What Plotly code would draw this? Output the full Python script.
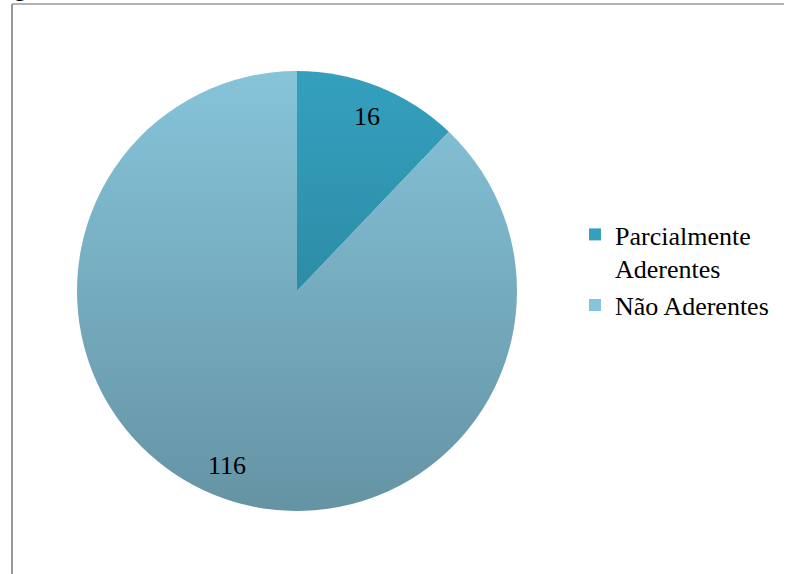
import math
import base64
import plotly.graph_objects as go

# ---- data ----
categories = ["Parcialmente<br>Aderentes", "Não Aderentes"]
values = [16, 116]
colors = ["#34a0be", "#86c4da"]

# ---- layout constants (pixels) ----
W, H = 789, 574
CX, CY, R = 297, 291, 220
LABEL_R = 0.855
SERIF = "Liberation Serif, Times New Roman, serif"

fig = go.Figure()
fig.add_trace(go.Pie(
    labels=categories,
    values=values,
    sort=False,
    direction="clockwise",
    rotation=0,
    marker=dict(colors=colors, line=dict(width=0)),
    textinfo="none",
    hoverinfo="label+value",
    domain=dict(x=[(CX - R) / W, (CX + R) / W], y=[1 - (CY + R) / H, 1 - (CY - R) / H]),
))

# value labels placed at mid-angle of each slice
total = sum(values)
cum = 0
annotations = []
for v in values:
    mid = (cum + v / 2) / total * 2 * math.pi
    cum += v
    px = CX + LABEL_R * R * math.sin(mid)
    py = CY - LABEL_R * R * math.cos(mid)
    annotations.append(dict(
        x=px / W, y=1 - py / H, xref="paper", yref="paper",
        text=str(v), showarrow=False,
        font=dict(family=SERIF, size=26, color="black"),
        xanchor="center", yanchor="middle",
    ))

# cropped caption glyph at the very top-left
annotations.append(dict(
    x=20 / W, y=1 - 3 / H, xref="paper", yref="paper", text="g", showarrow=False,
    font=dict(family=SERIF, size=24, color="black"),
    xanchor="center", yanchor="bottom",
))

# subtle vertical shading over the pie to mimic the gradient fill
svg = ('<svg xmlns="http://www.w3.org/2000/svg" viewBox="0 0 100 100" preserveAspectRatio="none">'
       '<defs><linearGradient id="g" x1="0" y1="0" x2="0" y2="1">'
       '<stop offset="0" stop-color="#000" stop-opacity="0"/>'
       '<stop offset="1" stop-color="#000" stop-opacity="0.25"/>'
       '</linearGradient></defs>'
       '<circle cx="50" cy="50" r="50" fill="url(#g)"/></svg>')
src = "data:image/svg+xml;base64," + base64.b64encode(svg.encode()).decode()

fig.update_layout(
    width=W, height=H,
    margin=dict(l=0, r=0, t=0, b=0),
    paper_bgcolor="white",
    font=dict(family=SERIF, size=24, color="black"),
    showlegend=True,
    legend=dict(
        x=575 / W, y=1 - 211 / H, xanchor="left", yanchor="top",
        font=dict(family=SERIF, size=26, color="black"),
        valign="top", bgcolor="rgba(0,0,0,0)", traceorder="normal",
    ),
    annotations=annotations,
    images=[dict(
        source=src, xref="paper", yref="paper",
        x=(CX - R) / W, y=1 - (CY - R) / H, sizex=2 * R / W, sizey=2 * R / H,
        xanchor="left", yanchor="top", sizing="stretch", layer="above",
    )],
    shapes=[
        dict(type="line", xref="paper", yref="paper", x0=12 / W, x1=12 / W, y0=0, y1=1 - 4 / H,
             line=dict(color="#9a9a9a", width=2)),
        dict(type="line", xref="paper", yref="paper", x0=12 / W, x1=784 / W, y0=1 - 4 / H, y1=1 - 4 / H,
             line=dict(color="#9a9a9a", width=1.5)),
    ],
)

fig.write_html("out.html")
